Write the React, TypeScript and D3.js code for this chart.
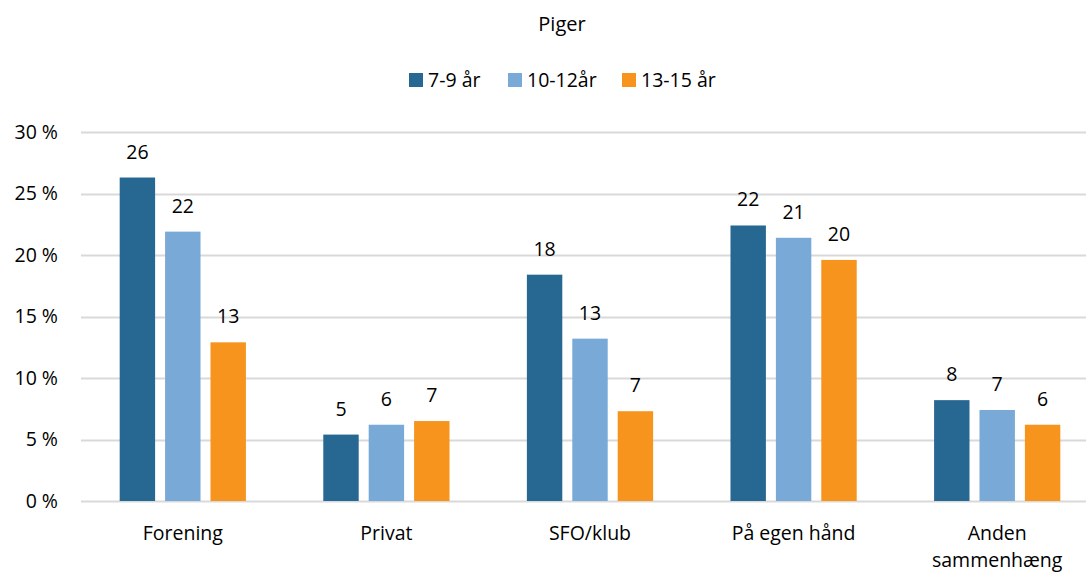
import React, { useRef, useEffect } from "react";
import * as d3 from "d3";

const categories = ["Forening", "Privat", "SFO/klub", "På egen hånd", "Anden sammenhæng"];
const seriesNames = ["7-9 år", "10-12år", "13-15 år"];
const colors = ["#276893", "#78A9D7", "#F7941E"];
const age7to9 = [26.3, 5.4, 18.4, 22.4, 8.2];
const age10to12 = [21.9, 6.2, 13.2, 21.4, 7.4];
const age13to15 = [12.9, 6.5, 7.3, 19.6, 6.2];
const yTicks = [0, 5, 10, 15, 20, 25, 30];

const series = [age7to9, age10to12, age13to15];

export default function App() {
  const ref = useRef<SVGSVGElement>(null);

  useEffect(() => {
    const width = 1086;
    const height = 572;
    const margin = { left: 81, right: -13, top: 132, bottom: 71 };
    const font = "'Open Sans', sans-serif";
    const fs = 19.5;

    const svg = d3.select(ref.current);
    svg.selectAll("*").remove();
    svg.attr("width", width).attr("height", height).style("font-family", font);

    const x = d3
      .scaleBand()
      .domain(categories)
      .range([margin.left, width - margin.right]);
    const inner = d3
      .scaleBand()
      .domain(seriesNames)
      .range([x.bandwidth() * 0.19, x.bandwidth() * 0.81])
      .paddingInner(0.22);
    const y = d3
      .scaleLinear()
      .domain([0, 30])
      .range([height - margin.bottom, margin.top]);

    // gridlines
    svg
      .append("g")
      .selectAll("line")
      .data(yTicks)
      .join("line")
      .attr("x1", margin.left)
      .attr("x2", width - margin.right)
      .attr("y1", (d) => Math.round(y(d)) + 0.5)
      .attr("y2", (d) => Math.round(y(d)) + 0.5)
      .attr("stroke", "#D9D9D9")
      .attr("stroke-width", 2);

    // y tick labels
    svg
      .append("g")
      .selectAll("text")
      .data(yTicks)
      .join("text")
      .attr("x", 58)
      .attr("y", (d) => y(d))
      .attr("dy", "0.35em")
      .attr("text-anchor", "end")
      .attr("font-size", fs)
      .attr("fill", "#000")
      .text((d) => `${d} %`);

    // bars
    const groups = svg
      .append("g")
      .selectAll("g")
      .data(categories)
      .join("g")
      .attr("transform", (d) => `translate(${x(d)},0)`);

    groups
      .selectAll("rect")
      .data((_, i) => series.map((s, j) => ({ name: seriesNames[j], v: s[i], j })))
      .join("rect")
      .attr("x", (d) => inner(d.name)!)
      .attr("width", inner.bandwidth())
      .attr("y", (d) => y(d.v))
      .attr("height", (d) => y(0) - y(d.v))
      .attr("fill", (d) => colors[d.j]);

    groups
      .selectAll("text")
      .data((_, i) => series.map((s, j) => ({ name: seriesNames[j], v: s[i], j })))
      .join("text")
      .attr("x", (d) => inner(d.name)! + inner.bandwidth() / 2)
      .attr("y", (d) => y(d.v) - 19)
      .attr("text-anchor", "middle")
      .attr("font-size", fs)
      .attr("fill", "#000")
      .text((d) => Math.round(d.v));

    // x labels
    const xLabels = svg
      .append("g")
      .selectAll("text")
      .data(categories)
      .join("text")
      .attr("x", (d) => x(d)! + x.bandwidth() / 2)
      .attr("y", 540)
      .attr("text-anchor", "middle")
      .attr("font-size", fs)
      .attr("fill", "#000");
    xLabels.each(function (d) {
      const words = d === "Anden sammenhæng" ? ["Anden", "sammenhæng"] : [d];
      const t = d3.select(this);
      words.forEach((w, i) => {
        t.append("tspan")
          .attr("x", x(d)! + x.bandwidth() / 2)
          .attr("dy", i === 0 ? 0 : 27)
          .text(w);
      });
    });

    // title
    svg
      .append("text")
      .attr("x", 562)
      .attr("y", 31)
      .attr("text-anchor", "middle")
      .attr("font-size", fs + 0.5)
      .attr("fill", "#000")
      .text("Piger");

    // legend
    const legendX = [409, 508, 622];
    const legend = svg
      .append("g")
      .selectAll("g")
      .data(seriesNames)
      .join("g")
      .attr("transform", (_, i) => `translate(${legendX[i]},73)`);
    legend
      .append("rect")
      .attr("width", 14)
      .attr("height", 14)
      .attr("fill", (_, i) => colors[i]);
    legend
      .append("text")
      .attr("x", 19)
      .attr("y", 7)
      .attr("dy", "0.35em")
      .attr("font-size", fs)
      .attr("fill", "#000")
      .text((d) => d);
  }, []);

  return (
    <div style={{ position: "absolute", left: 0, top: 0 }}>
      <svg ref={ref} style={{ display: "block", overflow: "hidden" }} />
    </div>
  );
}
